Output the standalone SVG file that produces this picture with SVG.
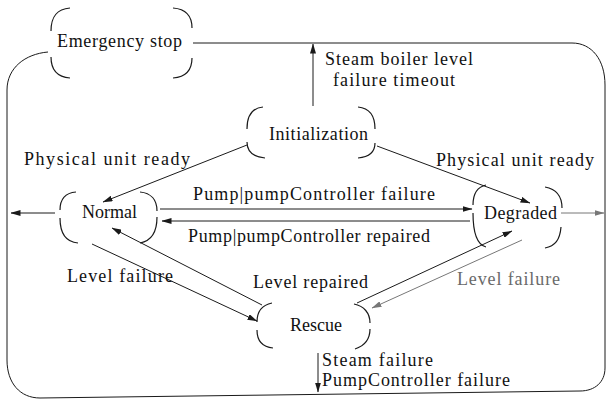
<svg xmlns="http://www.w3.org/2000/svg" width="607" height="403" viewBox="0 0 607 403">
<style>
  .t { font-size: 18px; fill: #111; }
  .gray { fill: #6a6a6a; }
  .node path { fill: none; stroke: #1a1a1a; stroke-width: 1.2; }
  .edge { fill: none; stroke: #1a1a1a; stroke-width: 1; }
  .edge.g { stroke: #777; }
</style>
<defs>
  <marker id="ah" markerUnits="userSpaceOnUse" markerWidth="10" markerHeight="6" refX="9.5" refY="3" orient="auto">
    <path d="M0,0 L10,3 L0,6 Z" fill="#1a1a1a"/>
  </marker>
  <marker id="ahg" markerUnits="userSpaceOnUse" markerWidth="10" markerHeight="6" refX="9.5" refY="3" orient="auto">
    <path d="M0,0 L10,3 L0,6 Z" fill="#777"/>
  </marker>
</defs>

<g id="connectors">
  <path class="edge" d="M193,43 L572,43 C592,43 605,60 605,85 L605,368 C605,382 595,391 580,391 L40,398 C20,398 7,383 7,360 L7,90 C7,68 25,54 48,52"/>
  <path class="edge" d="M313,106 L313,44" marker-end="url(#ah)"/>
  <path class="edge" d="M247,145 L103,202" marker-end="url(#ah)"/>
  <path class="edge" d="M377,146 L530,203" marker-end="url(#ah)"/>
  <path class="edge" d="M160,209 L472,209" marker-end="url(#ah)"/>
  <path class="edge" d="M470,221 L162,221" marker-end="url(#ah)"/>
  <path class="edge" d="M55,213 L11,213" marker-end="url(#ah)"/>
  <path class="edge g" d="M561,213 L604,213" marker-end="url(#ahg)"/>
  <path class="edge" d="M92,244 L257,321" marker-end="url(#ah)"/>
  <path class="edge" d="M262,305 L112,228" marker-end="url(#ah)"/>
  <path class="edge" d="M357,303 L512,231" marker-end="url(#ah)"/>
  <path class="edge g" d="M522,240 L372,308" marker-end="url(#ahg)"/>
  <path class="edge" d="M318,353 L318,392" marker-end="url(#ah)"/>
</g>

<g font-family="'Liberation Serif', 'Times New Roman', 'DejaVu Serif', serif">
<g id="emergency-stop" class="node">
  <path d="M70,8 C57,9 51,16 51,31 M51,57 C51,70 57,77 70,78 M173,8 C186,9 192,16 192,28 M192,58 C192,70 186,77 173,78"/>
  <text class="t" x="57" y="47" textLength="125" lengthAdjust="spacing">Emergency stop</text>
</g>

<g id="initialization" class="node">
  <path d="M263,107 C252,108 247,115 247,129 M247,142 C247,152 253,157 265,158 M358,107 C369,108 375,115 375,129 M375,143 C375,152 369,157 358,158"/>
  <text class="t" x="269" y="140" textLength="99" lengthAdjust="spacing">Initialization</text>
</g>

<g id="normal" class="node">
  <path d="M76,192 C65,193 60,199 60,210 M60,218 C60,233 66,242 78,243 M140,192 C151,193 157,200 157,211 M157,217 C157,233 151,241 140,243"/>
  <text class="t" x="82" y="218" textLength="55" lengthAdjust="spacing">Normal</text>
</g>

<g id="degraded" class="node">
  <path d="M486,185 C477,187 473,194 473,205 M473,213 C473,236 478,245 486,247 M545,187 C556,189 562,196 562,208 M561,227 C560,240 555,246 545,248"/>
  <text class="t" x="484" y="219" textLength="73" lengthAdjust="spacing">Degraded</text>
</g>

<g id="rescue" class="node">
  <path d="M272,303 C262,305 257,312 257,322 M257,330 C257,341 263,347 273,348 M354,304 C364,306 370,313 370,323 M370,329 C370,340 364,346 355,349"/>
  <text class="t" x="290" y="331" textLength="52" lengthAdjust="spacing">Rescue</text>
</g>

<g id="labels">
  <text class="t" x="24" y="165" textLength="166" lengthAdjust="spacing">Physical unit ready</text>
  <text class="t" x="436" y="166" textLength="158" lengthAdjust="spacing">Physical unit ready</text>
  <text class="t" x="325" y="65" textLength="148" lengthAdjust="spacing">Steam boiler level</text>
  <text class="t" x="333" y="86" textLength="122" lengthAdjust="spacing">failure timeout</text>
  <text class="t" x="193" y="200" textLength="242" lengthAdjust="spacing">Pump|pumpController failure</text>
  <text class="t" x="188" y="242" textLength="242" lengthAdjust="spacing">Pump|pumpController repaired</text>
  <text class="t" x="67" y="282" textLength="106" lengthAdjust="spacing">Level failure</text>
  <text class="t" x="253" y="288" textLength="115" lengthAdjust="spacing">Level repaired</text>
  <text class="t gray" x="457" y="285" textLength="103" lengthAdjust="spacing">Level failure</text>
  <text class="t" x="322" y="366" textLength="111" lengthAdjust="spacing">Steam failure</text>
  <text class="t" x="322" y="386" textLength="188" lengthAdjust="spacing">PumpController failure</text>
</g>
</g>
</svg>
